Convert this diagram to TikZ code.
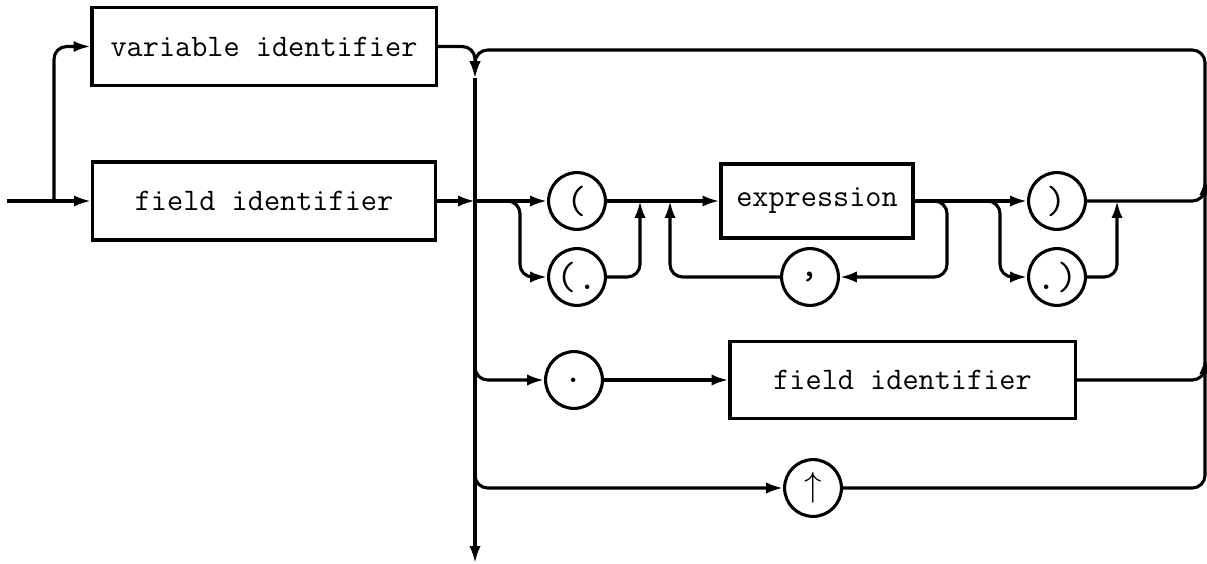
\documentclass[tikz,border=0pt]{standalone}
\usetikzlibrary{arrows.meta}

\begin{document}
\begin{tikzpicture}[x=0.025cm, y=-0.025cm, line width=2.2pt,
    flow/.style={-{Latex[length=12pt,width=8pt]}, rounded corners=9pt},
    idbox/.style={draw, minimum height=1.95cm, inner sep=0pt,
        font=\fontsize{22.3}{26}\selectfont\ttfamily},
    symb/.style={draw, circle, minimum size=1.42cm, inner sep=0pt,
        font=\fontsize{28}{30}\selectfont\ttfamily}]
    \useasboundingbox (0,0) rectangle (1207,564);

    %Define the two identifier boxes on the left
    \node[idbox, minimum width=8.6cm] (varid) at (264,46.5) {variable identifier\hspace{0.42cm}};
    \node[idbox, minimum width=8.575cm] (fieldid) at (264,201) {field identifier\hspace{1.1cm}};

    % Add the selector symbols and boxes
    \node[symb] (lp) at (577,201) {(};
    \node[symb] (lpd) at (577,277) {(.};
    \node[idbox, minimum width=4.8cm, minimum height=1.85cm] (expr) at (817,201) {expression};
    \node[symb] (comma) at (810,277) {,};
    \node[symb] (rp) at (1057,201) {)};
    \node[symb] (rpd) at (1057,277) {.)};
    \node[symb] (dot) at (574,380) {.};
    \node[idbox, minimum width=8.625cm, minimum height=1.925cm] (fid2) at (902.5,380) {field identifier\hspace{0.4cm}};
    \node[symb] (up) at (813,488) {$\uparrow$};

    % Add the junction points
    \coordinate (start) at (7,201);
    \coordinate (split) at (54,201);
    \coordinate (jtop) at (475,78);
    \coordinate (j1) at (475,201);
    \coordinate (j2) at (475,355);
    \coordinate (j3) at (475,463);
    \coordinate (exit) at (475,563);
    \coordinate (b1) at (520,277);
    \coordinate (m1) at (640,201);
    \coordinate (m2) at (670,201);
    \coordinate (b2) at (947,277);
    \coordinate (b3) at (1000,277);
    \coordinate (m3) at (1117,201);
    \coordinate (r1) at (1205,178);
    \coordinate (r2) at (1205,357);
    \coordinate (rtop) at (1205,50);

    % Add the entry into the two identifiers
    \draw[flow] (start) -- (fieldid.west);
    \draw[flow] (split) |- (varid.west);
    \draw[flow] (varid.east) -| (jtop);
    \draw[flow] (fieldid.east) -- (j1);

    % Add the main line going down
    \draw[flow] (jtop) -- (exit);

    % Add the index selector
    \draw[flow] (j1) -- (lp.west);
    \draw[flow] (j1) -| (b1) -- (lpd.west);
    \draw[flow] (lpd.east) -| (m1);
    \draw[flow] (lp.east) -- (expr.west);
    \draw[flow] (expr.east) -| (b2) -- (comma.east);
    \draw[flow] (comma.west) -| (m2);
    \draw[flow] (expr.east) -- (rp.west);
    \draw[flow] (expr.east) -| (b3) -- (rpd.west);
    \draw[flow] (rpd.east) -| (m3);
    \draw[flow] (rp.east) -| (r1);

    % Add the field selector
    \draw[flow] (j2) |- (dot.west);
    \draw[flow] (dot.east) -- (fid2.west);
    \draw[flow] (fid2.east) -| (r2);

    % Add the pointer and the way back to the top
    \draw[flow] (j3) |- (up.west);
    \draw[flow] (up.east) -| (rtop) -| (jtop);
\end{tikzpicture}
\end{document}
